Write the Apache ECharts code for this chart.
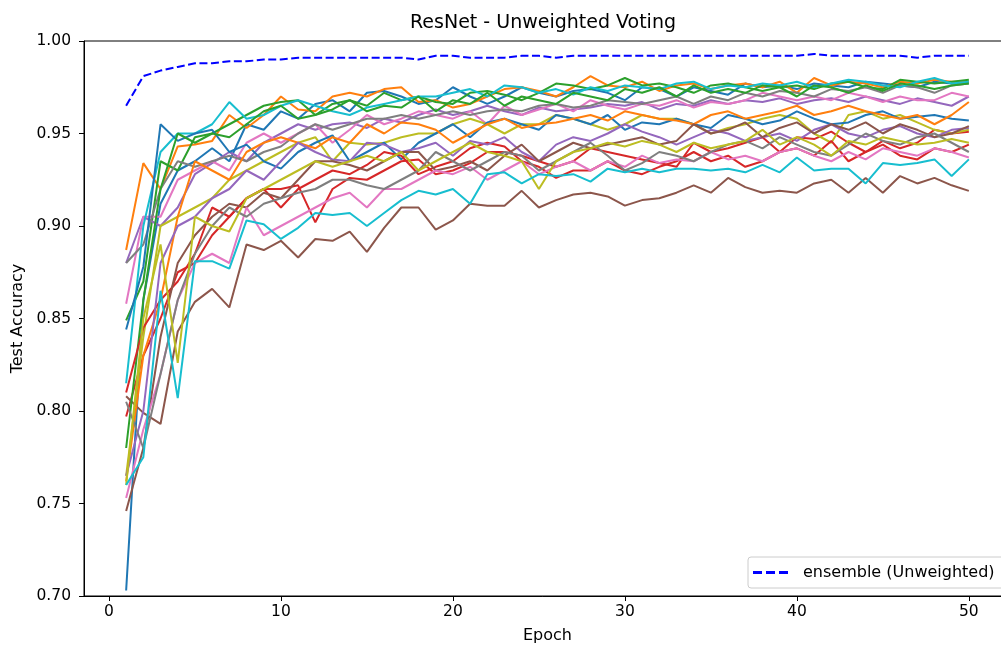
<!DOCTYPE html>
<html>
<head>
<meta charset="utf-8">
<script src="https://cdn.jsdelivr.net/npm/echarts@6/dist/echarts.min.js"></script>
<style>
html,body{margin:0;padding:0;background:#fff;}
#chart{width:1001px;height:648px;}
</style>
</head>
<body>
<div id="chart"></div>
<script>
const epochs = [1,2,3,4,5,6,7,8,9,10,11,12,13,14,15,16,17,18,19,20,21,22,23,24,25,26,27,28,29,30,31,32,33,34,35,36,37,38,39,40,41,42,43,44,45,46,47,48,49,50];
const xTicks = [0,10,20,30,40,50];
const yTicks = [0.70,0.75,0.80,0.85,0.90,0.95,1.00];

const blueA = [0.703,0.86,0.912,0.93,0.935,0.942,0.935,0.955,0.952,0.962,0.958,0.966,0.968,0.962,0.972,0.973,0.970,0.966,0.968,0.975,0.970,0.966,0.970,0.975,0.972,0.970,0.973,0.974,0.972,0.968,0.975,0.974,0.970,0.975,0.973,0.971,0.977,0.975,0.976,0.974,0.977,0.976,0.975,0.978,0.977,0.976,0.975,0.978,0.977,0.978];
const orangeA = [0.887,0.934,0.92,0.943,0.944,0.946,0.96,0.953,0.96,0.97,0.963,0.962,0.97,0.972,0.97,0.974,0.975,0.967,0.968,0.964,0.966,0.970,0.974,0.975,0.973,0.970,0.975,0.981,0.976,0.975,0.978,0.973,0.976,0.977,0.974,0.976,0.977,0.975,0.978,0.972,0.98,0.976,0.978,0.977,0.975,0.978,0.977,0.979,0.978,0.978];
const greenA = [0.849,0.87,0.935,0.93,0.948,0.95,0.955,0.96,0.965,0.967,0.968,0.96,0.966,0.968,0.965,0.972,0.968,0.97,0.967,0.966,0.972,0.973,0.971,0.968,0.972,0.977,0.976,0.974,0.976,0.98,0.976,0.977,0.975,0.972,0.976,0.977,0.975,0.973,0.975,0.976,0.974,0.977,0.978,0.975,0.974,0.979,0.978,0.977,0.978,0.979];
const redA = [0.797,0.83,0.85,0.875,0.88,0.895,0.905,0.915,0.92,0.92,0.922,0.902,0.92,0.926,0.925,0.93,0.935,0.936,0.928,0.93,0.934,0.94,0.94,0.938,0.935,0.932,0.935,0.942,0.94,0.938,0.936,0.934,0.932,0.945,0.94,0.942,0.945,0.948,0.94,0.948,0.947,0.951,0.945,0.94,0.946,0.942,0.945,0.952,0.95,0.951];
const purpleA = [0.88,0.905,0.9,0.91,0.928,0.934,0.94,0.935,0.945,0.95,0.955,0.952,0.955,0.956,0.953,0.958,0.956,0.96,0.963,0.96,0.962,0.965,0.962,0.96,0.964,0.962,0.963,0.964,0.966,0.965,0.967,0.963,0.966,0.965,0.968,0.966,0.968,0.967,0.969,0.966,0.968,0.969,0.967,0.97,0.968,0.966,0.969,0.967,0.965,0.97];
const brownA = [0.808,0.799,0.793,0.843,0.859,0.866,0.856,0.890,0.887,0.892,0.883,0.893,0.892,0.897,0.886,0.899,0.910,0.910,0.898,0.903,0.912,0.911,0.911,0.919,0.910,0.914,0.917,0.918,0.916,0.911,0.914,0.915,0.918,0.922,0.918,0.926,0.921,0.918,0.919,0.918,0.923,0.925,0.918,0.926,0.918,0.927,0.923,0.926,0.922,0.919];
const pinkA = [0.858,0.905,0.905,0.925,0.93,0.935,0.93,0.945,0.95,0.945,0.95,0.955,0.945,0.952,0.96,0.955,0.958,0.962,0.96,0.958,0.962,0.955,0.965,0.96,0.963,0.966,0.962,0.968,0.965,0.963,0.966,0.965,0.968,0.964,0.967,0.966,0.968,0.972,0.97,0.968,0.97,0.968,0.972,0.97,0.967,0.97,0.968,0.968,0.972,0.97];
const grayA = [0.88,0.89,0.92,0.935,0.932,0.935,0.938,0.935,0.94,0.943,0.95,0.955,0.952,0.955,0.958,0.958,0.96,0.958,0.96,0.962,0.96,0.962,0.963,0.962,0.965,0.966,0.964,0.965,0.968,0.967,0.966,0.968,0.97,0.966,0.97,0.968,0.972,0.97,0.973,0.972,0.97,0.974,0.973,0.975,0.972,0.976,0.975,0.972,0.976,0.977];
const oliveA = [0.765,0.84,0.9,0.905,0.91,0.915,0.925,0.93,0.935,0.94,0.945,0.948,0.935,0.945,0.944,0.945,0.948,0.95,0.95,0.955,0.958,0.955,0.95,0.955,0.955,0.96,0.958,0.955,0.952,0.955,0.96,0.958,0.958,0.955,0.95,0.953,0.955,0.958,0.96,0.958,0.95,0.945,0.96,0.962,0.958,0.96,0.956,0.952,0.95,0.952];
const cyanA = [0.815,0.9,0.94,0.95,0.95,0.955,0.967,0.958,0.96,0.965,0.968,0.965,0.962,0.96,0.964,0.966,0.968,0.97,0.97,0.972,0.974,0.97,0.976,0.975,0.972,0.974,0.971,0.975,0.973,0.976,0.975,0.974,0.977,0.978,0.974,0.976,0.975,0.977,0.976,0.978,0.975,0.977,0.979,0.978,0.976,0.975,0.978,0.98,0.977,0.978];
const blueB = [0.844,0.878,0.955,0.946,0.95,0.952,0.94,0.944,0.935,0.931,0.94,0.945,0.949,0.935,0.94,0.945,0.936,0.945,0.95,0.955,0.948,0.956,0.958,0.955,0.952,0.96,0.958,0.955,0.96,0.952,0.956,0.955,0.958,0.955,0.953,0.96,0.958,0.955,0.957,0.962,0.958,0.955,0.956,0.96,0.962,0.958,0.959,0.96,0.958,0.957];
const orangeB = [0.762,0.83,0.86,0.905,0.935,0.93,0.925,0.94,0.945,0.948,0.945,0.942,0.948,0.945,0.955,0.95,0.956,0.955,0.952,0.945,0.95,0.955,0.958,0.953,0.955,0.956,0.958,0.96,0.957,0.962,0.96,0.958,0.957,0.955,0.96,0.962,0.958,0.96,0.962,0.965,0.96,0.962,0.965,0.962,0.96,0.958,0.96,0.955,0.96,0.967];
const greenB = [0.78,0.86,0.92,0.95,0.945,0.95,0.948,0.955,0.962,0.965,0.958,0.96,0.963,0.968,0.962,0.965,0.964,0.97,0.962,0.968,0.966,0.972,0.965,0.97,0.968,0.966,0.972,0.97,0.968,0.974,0.972,0.975,0.97,0.976,0.972,0.974,0.972,0.976,0.975,0.97,0.976,0.975,0.972,0.976,0.973,0.977,0.976,0.974,0.976,0.977];
const redB = [0.81,0.845,0.86,0.87,0.885,0.91,0.905,0.915,0.92,0.91,0.92,0.925,0.93,0.928,0.933,0.94,0.938,0.928,0.932,0.935,0.942,0.945,0.943,0.935,0.932,0.926,0.93,0.93,0.935,0.93,0.928,0.932,0.935,0.94,0.935,0.938,0.932,0.935,0.94,0.942,0.938,0.946,0.935,0.94,0.944,0.938,0.936,0.942,0.94,0.944];
const purpleB = [0.765,0.8,0.88,0.9,0.905,0.915,0.92,0.93,0.925,0.935,0.945,0.94,0.936,0.935,0.945,0.944,0.94,0.942,0.945,0.938,0.946,0.944,0.948,0.94,0.935,0.944,0.948,0.946,0.95,0.955,0.951,0.948,0.944,0.948,0.952,0.95,0.946,0.948,0.95,0.946,0.952,0.955,0.95,0.948,0.952,0.954,0.95,0.948,0.952,0.953];
const brownB = [0.746,0.78,0.84,0.88,0.895,0.905,0.912,0.91,0.918,0.915,0.925,0.935,0.935,0.933,0.93,0.935,0.94,0.94,0.93,0.932,0.935,0.93,0.938,0.944,0.935,0.94,0.945,0.942,0.944,0.946,0.948,0.944,0.946,0.955,0.95,0.952,0.956,0.948,0.953,0.956,0.95,0.955,0.952,0.956,0.95,0.955,0.952,0.948,0.95,0.954];
const pinkB = [0.753,0.79,0.82,0.86,0.88,0.885,0.88,0.91,0.895,0.9,0.905,0.91,0.915,0.918,0.91,0.92,0.92,0.925,0.93,0.928,0.932,0.925,0.93,0.935,0.928,0.932,0.935,0.93,0.935,0.932,0.938,0.934,0.936,0.935,0.94,0.936,0.938,0.935,0.94,0.942,0.938,0.935,0.94,0.936,0.942,0.94,0.938,0.942,0.94,0.937];
const grayB = [0.805,0.78,0.82,0.86,0.885,0.9,0.91,0.905,0.912,0.915,0.918,0.92,0.925,0.925,0.922,0.92,0.925,0.93,0.94,0.935,0.93,0.935,0.94,0.938,0.93,0.935,0.94,0.945,0.938,0.93,0.934,0.94,0.938,0.935,0.94,0.944,0.946,0.942,0.948,0.944,0.94,0.938,0.944,0.95,0.946,0.944,0.948,0.95,0.945,0.94];
const oliveB = [0.76,0.85,0.89,0.826,0.905,0.9,0.897,0.915,0.92,0.925,0.93,0.935,0.932,0.935,0.938,0.935,0.94,0.93,0.935,0.94,0.945,0.94,0.938,0.935,0.92,0.935,0.94,0.942,0.945,0.943,0.946,0.944,0.94,0.945,0.942,0.944,0.946,0.952,0.944,0.948,0.944,0.938,0.946,0.944,0.948,0.946,0.944,0.945,0.947,0.945];
const cyanB = [0.76,0.775,0.865,0.807,0.881,0.881,0.877,0.903,0.901,0.893,0.899,0.907,0.906,0.907,0.900,0.907,0.914,0.919,0.917,0.920,0.912,0.928,0.929,0.923,0.928,0.927,0.928,0.924,0.931,0.929,0.931,0.929,0.931,0.931,0.930,0.931,0.929,0.933,0.929,0.937,0.930,0.931,0.931,0.923,0.934,0.933,0.934,0.936,0.927,0.936];
const ensemble = [0.965,0.981,0.984,0.986,0.988,0.988,0.989,0.989,0.990,0.990,0.991,0.991,0.991,0.991,0.991,0.991,0.991,0.990,0.992,0.992,0.991,0.991,0.991,0.992,0.992,0.991,0.992,0.992,0.992,0.992,0.992,0.992,0.992,0.992,0.992,0.992,0.992,0.992,0.992,0.992,0.993,0.992,0.992,0.992,0.992,0.992,0.991,0.992,0.992,0.992];

const models = [blueA, orangeA, greenA, redA, purpleA, brownA, pinkA, grayA, oliveA, cyanA,
                blueB, orangeB, greenB, redB, purpleB, brownB, pinkB, grayB, oliveB, cyanB];
const palette = ['#1f77b4','#ff7f0e','#2ca02c','#d62728','#9467bd','#8c564b','#e377c2','#7f7f7f','#bcbd22','#17becf'];
const font = 'DejaVu Sans';

const series = models.map((vals, i) => ({
  name: 'model ' + (i + 1),
  type: 'line',
  data: epochs.map((e, j) => [e, vals[j]]),
  showSymbol: false,
  symbol: 'none',
  lineStyle: { color: palette[i % 10], width: 2 },
  itemStyle: { color: palette[i % 10] },
  animation: false,
  silent: true
}));
series.push({
  name: 'ensemble (Unweighted)',
  type: 'line',
  data: epochs.map((e, j) => [e, ensemble[j]]),
  showSymbol: false,
  symbol: 'none',
  lineStyle: { color: '#0000ff', width: 2, type: [8, 3.5] },
  itemStyle: { color: '#0000ff' },
  animation: false,
  silent: true
});

const chart = echarts.init(document.getElementById('chart'), null, { renderer: 'canvas' });
chart.setOption({
  animation: false,
  backgroundColor: '#ffffff',
  title: {
    text: 'ResNet - Unweighted Voting',
    left: 538, top: 9, textAlign: 'center',
    textStyle: { fontFamily: font, fontSize: 19, fontWeight: 'normal', color: '#000' }
  },
  grid: { left: 84, top: 41, width: 927, height: 555, containLabel: false, outerBoundsMode: 'none',
          show: true, borderColor: '#000', borderWidth: 1, backgroundColor: 'transparent' },
  legend: {
    data: [{ name: 'ensemble (Unweighted)', icon: 'path://M0,0H9V3H0Z M13,0H22V3H13Z M26,0H35V3H26Z' }],
    left: 748, top: 557,
    orient: 'vertical',
    padding: [6, 30, 6, 5],
    itemWidth: 35, itemHeight: 3,
    backgroundColor: 'rgba(255,255,255,0.8)',
    borderColor: '#cccccc', borderWidth: 1, borderRadius: 3,
    itemStyle: { color: '#0000ff' },
    textStyle: { fontFamily: font, fontSize: 16, color: '#000', padding: [0, 0, 0, 10], lineHeight: 19 }
  },
  xAxis: {
    type: 'value', min: -1.45, max: 52.45,
    name: 'Epoch', nameLocation: 'middle', nameGap: 32,
    nameTextStyle: { fontFamily: font, fontSize: 16, color: '#000' },
    axisLine: { show: true, onZero: false, lineStyle: { color: '#000', width: 1 } },
    axisTick: { show: true, length: 5, customValues: xTicks, lineStyle: { color: '#000' } },
    axisLabel: { customValues: xTicks, margin: 8, fontFamily: font, fontSize: 15.5, color: '#000', showMinLabel: true, showMaxLabel: true },
    splitLine: { show: false }
  },
  yAxis: {
    type: 'value', min: 0.70, max: 1.00, interval: 0.05,
    name: 'Test Accuracy', nameLocation: 'middle', nameGap: 57,
    nameTextStyle: { fontFamily: font, fontSize: 16, color: '#000' },
    axisLine: { show: true, onZero: false, lineStyle: { color: '#000', width: 1 } },
    axisTick: { show: true, length: 5, customValues: yTicks, lineStyle: { color: '#000' } },
    axisLabel: { customValues: yTicks, margin: 13, fontFamily: font, fontSize: 15.5, color: '#000', formatter: v => v.toFixed(2) },
    splitLine: { show: false }
  },
  series: series
});
</script>
</body>
</html>
